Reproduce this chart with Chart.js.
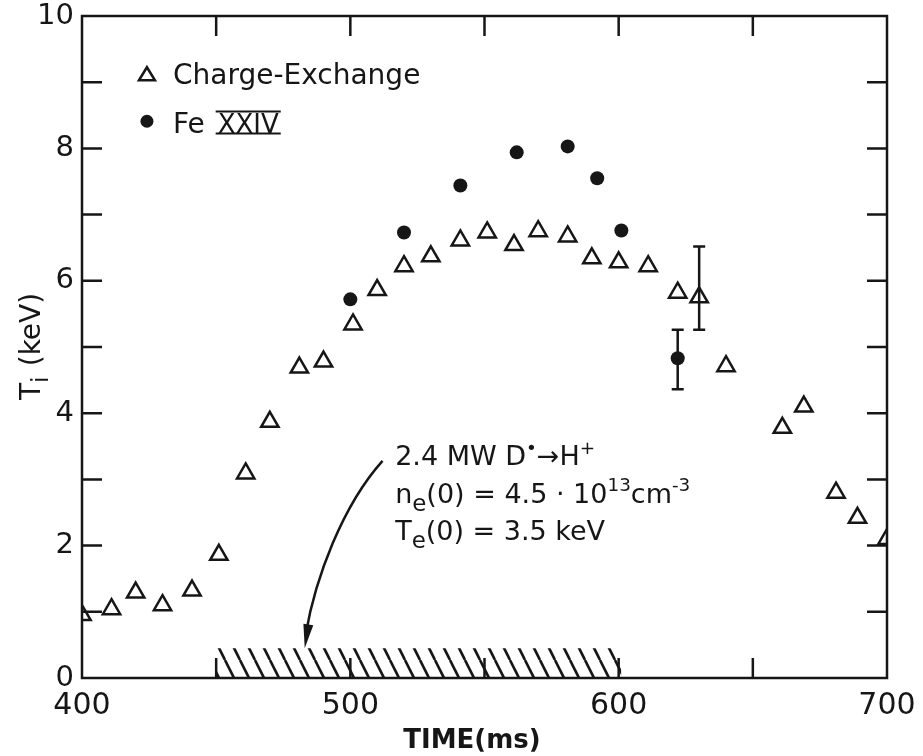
<!DOCTYPE html>
<html>
<head>
<meta charset="utf-8">
<script src="https://cdn.jsdelivr.net/npm/chart.js@4.4.1/dist/chart.umd.min.js"></script>
<style>
  html, body { margin: 0; padding: 0; background: #fff; }
  #wrap { width: 923px; height: 756px; }
</style>
</head>
<body>
<div id="wrap"><canvas id="tiChart" width="923" height="756"></canvas></div>
<script>
// Charge-exchange ion temperature (open triangles)
const cxTime = [400, 411, 420, 430, 441, 451, 461, 470, 481, 490, 501, 510, 520, 530, 541,
                551, 561, 570, 581, 590, 600, 611, 622, 630, 640, 661, 669, 681, 689, 700];
const cxTi = [0.95, 1.04, 1.29, 1.10, 1.32, 1.86, 3.09, 3.87, 4.69, 4.78, 5.34, 5.86, 6.22, 6.37, 6.61,
              6.73, 6.54, 6.75, 6.67, 6.34, 6.28, 6.22, 5.82, 5.75, 4.71, 3.78, 4.10, 2.80, 2.42, 2.10];

// Fe XXIV line (filled circles)
const feTime = [500, 520, 541, 562, 581, 592, 601, 622];
const feTi = [5.72, 6.73, 7.44, 7.94, 8.03, 7.55, 6.76, 4.83];

// error bars
const errTime = [630, 622];
const errLow = [5.26, 4.36];
const errHigh = [6.52, 5.26];

// neutral beam pulse (hatched)
const beamTime = [450, 601];
const beamLevel = [0.45, 0.45];

const xTickLabels = [400, 500, 600, 700];
const yTickLabels = [0, 2, 4, 6, 8, 10];

const ink = '#161616';
const fontFam = '"DejaVu Sans", sans-serif';

Chart.defaults.font.family = fontFam;
Chart.defaults.color = ink;

// diagonal hatch pattern
function makeHatch() {
    const c = document.createElement('canvas');
    c.width = 15;
    c.height = 30;
    const g = c.getContext('2d');
    g.strokeStyle = ink;
    g.lineWidth = 2.6;
    [-15, 0, 15].forEach(o => {
        g.beginPath();
        g.moveTo(o, 0);
        g.lineTo(o + 15, 30);
        g.stroke();
    });
    return g.createPattern(c, 'repeat');
}

function drawRuns(ctx, x, y, runs, size) {
    runs.forEach(r => {
        const s = r.sup ? size * 0.68 : r.sub ? size * 0.85 : size;
        ctx.font = `${s}px ${fontFam}`;
        const dy = r.sup ? -size * 0.42 : r.sub ? size * 0.3 : 0;
        ctx.fillText(r.t, x, y + dy);
        x += ctx.measureText(r.t).width + (r.gap || 0);
    });
}

const decorations = {
    id: 'decorations',
    beforeDraw(chart) {
        const ctx = chart.ctx;
        ctx.save();
        ctx.fillStyle = '#fff';
        ctx.fillRect(0, 0, chart.width, chart.height);
        ctx.restore();
    },
    afterDatasetsDraw(chart) {
        const { ctx, chartArea: a, scales: { x, y } } = chart;
        ctx.save();
        ctx.strokeStyle = ink;
        ctx.fillStyle = ink;

        // frame
        ctx.lineWidth = 2.5;
        ctx.strokeRect(a.left, a.top, a.right - a.left, a.bottom - a.top);

        // inward ticks
        ctx.beginPath();
        for (let v = 450; v < 700; v += 50) {
            const px = x.getPixelForValue(v);
            ctx.moveTo(px, a.bottom); ctx.lineTo(px, a.bottom - 20);
            ctx.moveTo(px, a.top); ctx.lineTo(px, a.top + 20);
        }
        for (let v = 1; v < 10; v++) {
            const py = y.getPixelForValue(v);
            ctx.moveTo(a.left, py); ctx.lineTo(a.left + 20, py);
            ctx.moveTo(a.right, py); ctx.lineTo(a.right - 20, py);
        }
        ctx.stroke();

        // error bars
        errTime.forEach((t, i) => {
            const px = x.getPixelForValue(t);
            const lo = y.getPixelForValue(errLow[i]);
            const hi = y.getPixelForValue(errHigh[i]);
            ctx.beginPath();
            ctx.moveTo(px, lo); ctx.lineTo(px, hi);
            ctx.moveTo(px - 6, lo); ctx.lineTo(px + 6, lo);
            ctx.moveTo(px - 6, hi); ctx.lineTo(px + 6, hi);
            ctx.stroke();
        });

        // curved arrow to beam
        const p0 = [x.getPixelForValue(512), y.getPixelForValue(3.28)];
        const c1 = [x.getPixelForValue(497), y.getPixelForValue(2.60)];
        const c2 = [x.getPixelForValue(487), y.getPixelForValue(1.51)];
        const p3 = [x.getPixelForValue(483), y.getPixelForValue(0.45)];
        ctx.beginPath();
        ctx.moveTo(p0[0], p0[1]);
        ctx.bezierCurveTo(c1[0], c1[1], c2[0], c2[1], p3[0] + 1, p3[1] - 14);
        ctx.stroke();
        const ang = Math.atan2(p3[1] - c2[1], p3[0] - c2[0]);
        ctx.beginPath();
        ctx.moveTo(p3[0], p3[1]);
        ctx.lineTo(p3[0] - 24 * Math.cos(ang) + 5 * Math.sin(ang), p3[1] - 24 * Math.sin(ang) - 5 * Math.cos(ang));
        ctx.lineTo(p3[0] - 24 * Math.cos(ang) - 5 * Math.sin(ang), p3[1] - 24 * Math.sin(ang) + 5 * Math.cos(ang));
        ctx.closePath();
        ctx.fill();

        // annotation
        ctx.textBaseline = 'alphabetic';
        ctx.textAlign = 'left';
        const ax = x.getPixelForValue(516.7);
        drawRuns(ctx, ax, y.getPixelForValue(3.21), [
            { t: '2.4 MW D' }, { t: '•', sup: true }, { t: '→H' }, { t: '+', sup: true }
        ], 27);
        drawRuns(ctx, ax, y.getPixelForValue(2.65), [
            { t: 'n' }, { t: 'e', sub: true }, { t: '(0) = 4.5 · 10' }, { t: '13', sup: true }, { t: 'cm' }, { t: '-3', sup: true }
        ], 27);
        drawRuns(ctx, ax, y.getPixelForValue(2.09), [
            { t: 'T' }, { t: 'e', sub: true }, { t: '(0) = 3.5 keV' }
        ], 27);

        // legend
        const lx = x.getPixelForValue(424.2);
        const tx = x.getPixelForValue(433.9);
        const ly1 = y.getPixelForValue(9.12);
        const ly2 = y.getPixelForValue(8.41);
        ctx.beginPath();
        ctx.moveTo(lx, ly1 - 7); ctx.lineTo(lx + 8, ly1 + 6); ctx.lineTo(lx - 8, ly1 + 6);
        ctx.closePath();
        ctx.stroke();
        ctx.beginPath();
        ctx.arc(lx, ly2, 6.5, 0, Math.PI * 2);
        ctx.fill();
        ctx.font = `28px ${fontFam}`;
        ctx.fillText('Charge-Exchange', tx, y.getPixelForValue(8.97));
        const feY = y.getPixelForValue(8.24);
        ctx.fillText('Fe ', tx, feY);
        const rx = tx + ctx.measureText('Fe ').width + 4;
        ctx.font = `26px ${fontFam}`;
        ctx.fillText('XXIV', rx, feY);
        const rw = ctx.measureText('XXIV').width;
        ctx.lineWidth = 2;
        ctx.beginPath();
        ctx.moveTo(rx - 2, feY - 21); ctx.lineTo(rx + rw + 2, feY - 21);
        ctx.moveTo(rx - 2, feY + 1); ctx.lineTo(rx + rw + 2, feY + 1);
        ctx.stroke();

        // axis titles
        ctx.font = `bold 26px ${fontFam}`;
        ctx.textAlign = 'center';
        ctx.textBaseline = 'middle';
        ctx.fillText('TIME(ms)', 472, 741);

        ctx.translate(30, 340);
        ctx.rotate(-Math.PI / 2);
        ctx.textAlign = 'left';
        ctx.textBaseline = 'alphabetic';
        drawRuns(ctx, -60, 10, [{ t: 'T' }, { t: 'i', sub: true, gap: 10 }, { t: '(keV)' }], 28);
        ctx.restore();
    }
};

const hatch = makeHatch();

new Chart(document.getElementById('tiChart'), {
    type: 'scatter',
    data: {
        datasets: [
            {
                type: 'line',
                label: 'beam',
                data: beamTime.map((t, i) => ({ x: t, y: beamLevel[i] })),
                fill: 'origin',
                backgroundColor: hatch,
                borderWidth: 0,
                pointRadius: 0
            },
            {
                label: 'Charge-Exchange',
                data: cxTime.map((t, i) => ({ x: t, y: cxTi[i] })),
                pointStyle: 'triangle',
                pointRadius: 10,
                borderWidth: 2.5,
                borderColor: ink,
                backgroundColor: '#fff'
            },
            {
                label: 'Fe XXIV',
                data: feTime.map((t, i) => ({ x: t, y: feTi[i] })),
                pointStyle: 'circle',
                pointRadius: 7,
                borderWidth: 0,
                backgroundColor: ink
            }
        ]
    },
    options: {
        responsive: false,
        animation: false,
        devicePixelRatio: 1,
        layout: { padding: { left: 0, top: 16, right: 36, bottom: 0 } },
        plugins: {
            legend: { display: false },
            tooltip: { enabled: false }
        },
        scales: {
            x: {
                type: 'linear',
                min: 400,
                max: 700,
                afterFit: s => { s.height = 78; s.paddingLeft = 0; s.paddingRight = 0; },
                afterBuildTicks: s => { s.ticks = xTickLabels.map(v => ({ value: v })); },
                grid: { display: false, drawTicks: false },
                border: { display: false },
                ticks: { font: { size: 30 }, padding: 10, maxRotation: 0, color: ink }
            },
            y: {
                type: 'linear',
                min: 0,
                max: 10,
                afterFit: s => { s.width = 82; s.paddingTop = 0; s.paddingBottom = 0; },
                afterBuildTicks: s => { s.ticks = yTickLabels.map(v => ({ value: v })); },
                grid: { display: false, drawTicks: false },
                border: { display: false },
                ticks: { font: { size: 29 }, padding: 8, color: ink }
            }
        }
    },
    plugins: [decorations]
});
</script>
</body>
</html>
